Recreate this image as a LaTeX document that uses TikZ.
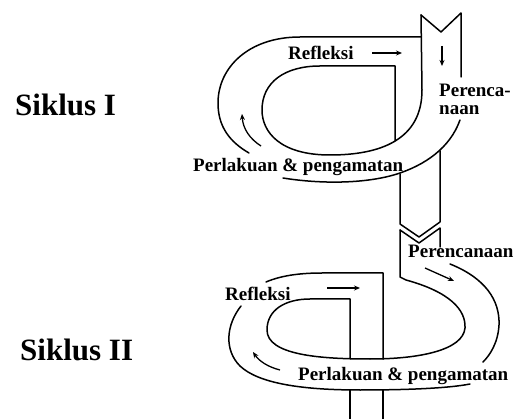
\documentclass[tikz,border=0pt]{standalone}
\usepackage{fontspec}
\setmainfont{Liberation Serif}
\usetikzlibrary{arrows.meta}
\begin{document}
\begin{tikzpicture}[x=1pt,y=-1pt,
  band/.style={line width=1.5pt, line join=round, line cap=round},
  dirarrow/.style={line width=1.3pt, -{Stealth[length=6pt,width=5pt]}},
  lbl/.style={font=\fontsize{19}{19}\selectfont\bfseries, inner sep=0pt, anchor=base west},
  cyc/.style={font=\fontsize{31}{31}\selectfont\bfseries, inner sep=0pt, anchor=base west}]
\useasboundingbox (0,0) rectangle (519,419);

% ---------- Cycle I ----------
\draw[band] (421,15) -- (441,32) -- (461,13) -- (461,77);
\draw[band] (421,15) -- (422,90) .. controls (422,140) and (380,155) .. (330,155)
  .. controls (280,155) and (262,132) .. (262,110)
  .. controls (262,82) and (285,66) .. (320,66) -- (395,66) -- (395,141);
\draw[band] (421,37) -- (300,37) .. controls (248,37) and (218,68) .. (218,103)
  .. controls (218,127) and (230,142) .. (249,153);
\draw[band] (283,178) .. controls (320,184) and (365,184) .. (397,174)
  .. controls (425,165) and (450,148) .. (460,120);
\draw[band] (400,174) -- (400,224) -- (419,237) -- (440,222) -- (440,151);

% ---------- Cycle II ----------
\draw[band] (400,230) -- (419,243) -- (440,228) -- (440,247);
\draw[band] (400,230) -- (400,277) -- (406,280) .. controls (450,292) and (466,310) .. (465,328)
  .. controls (463,350) and (420,359) .. (370,359)
  .. controls (320,359) and (267,355) .. (267,330)
  .. controls (267,310) and (285,299) .. (310,299) -- (350,299) -- (350,359);
\draw[band] (383,359) -- (383,273) -- (322,273) .. controls (298,273) and (280,276) .. (266,282);
\draw[band] (241,306) .. controls (226,325) and (224,350) .. (240,366)
  .. controls (258,383) and (300,390) .. (360,390)
  .. controls (410,390) and (450,388) .. (470,384);
\draw[band] (450,264) .. controls (485,278) and (500,300) .. (499,325)
  .. controls (498,343) and (490,355) .. (483,362);
\draw[band] (350,390) -- (350,420);
\draw[band] (383,390) -- (383,420);

% ---------- direction arrows ----------
\draw[dirarrow] (372,53) -- (402,53);
\draw[dirarrow] (442,46) -- (442,66);
\draw[dirarrow] (261,146) .. controls (250,139) and (243,129) .. (242,114);
\draw[dirarrow] (425,268) -- (454,281);
\draw[dirarrow] (327,288) -- (360,288);
\draw[dirarrow] (280,370) .. controls (268,367) and (259,361) .. (253,352);

% ---------- labels ----------
\node[lbl] (refI) at (288,60) {Refleksi};
\node[lbl] (perI1) at (439,97) {Perenca-};
\node[lbl] (perI2) at (439,115) {naan};
\node[lbl] (obsI) at (193,172) {Perlakuan \& pengamatan};
\node[lbl] (perII) at (408,258) {Perencanaan};
\node[lbl] (refII) at (225,301) {Refleksi};
\node[lbl] (obsII) at (298,380) {Perlakuan \& pengamatan};
\node[cyc] (cycI) at (15,116) {Siklus I};
\node[cyc] (cycII) at (20,360) {Siklus II};
\end{tikzpicture}
\end{document}
